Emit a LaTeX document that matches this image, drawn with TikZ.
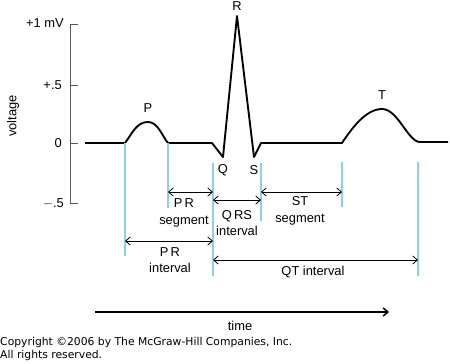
\documentclass[tikz,border=0pt]{standalone}
\usepackage{fontspec}
\setmainfont{Liberation Sans}
\newfontfamily\copyfont{DejaVu Sans}
\usepackage{tikz}
\usetikzlibrary{calc,arrows.meta}
\definecolor{markblue}{RGB}{140,208,240}
\tikzset{>={Straight Barb[length=4pt,width=7pt]},
  trace/.style={line width=1.6pt, line join=round},
  marker/.style={markblue, line width=1.2pt},
  span/.style={<->, line width=0.7pt},
  lbl/.style={align=center, inner sep=0pt, font=\fontsize{11}{14}\selectfont}}

\begin{document}
\begin{tikzpicture}[x=0.03cm, y=-0.03cm]
    \useasboundingbox (0,0) rectangle (450,363);
    % voltage axis
    \begin{scope}[gray!70!black, line width=0.8pt]
      \draw (78,24) -- (70,24) -- (70,203) -- (78,203);
      \draw (70,85) -- (78,85);
      \draw (70,143) -- (78,143);
    \end{scope}
    \node[lbl, anchor=east] (vone) at (64,23) {+1 mV};
    \node[lbl, anchor=east] (vhalf) at (62,85) {+.5};
    \node[lbl, anchor=east] (vzero) at (62,143) {0};
    \node[lbl, anchor=east] (vneg) at (64,204) {$-$.5};
    \node[lbl, rotate=90] (volt) at (13,116) {voltage};
    % the trace
    \coordinate (pon) at (125,143);
    \coordinate (poff) at (168,143);
    \coordinate (qon) at (212,143);
    \coordinate (q) at (223,157);
    \coordinate (r) at (237,16);
    \coordinate (s) at (254,157);
    \coordinate (soff) at (261,143);
    \coordinate (ton) at (342,143);
    \coordinate (toff) at (420,142);
    \draw[trace] (85,143) -- (pon) .. controls (133,132) and (137,122) .. (148,122)
      .. controls (158,122) and (162,136) .. (poff) -- (qon) -- (q) -- (r) -- (s) -- (soff)
      -- (ton) .. controls (352,128) and (366,109) .. (382,109)
      .. controls (398,109) and (408,142) .. (toff) -- (448,142);
    \node[lbl] (plbl) at (148,108) {P};
    \node[lbl] (rlbl) at (237,6) {R};
    \node[lbl] (qlbl) at (223,170) {Q};
    \node[lbl] (slbl) at (254,170) {S};
    \node[lbl] (tlbl) at (382,95) {T};
    % markers
    \coordinate (m1) at (125,256);
    \coordinate (m2) at (168,208);
    \coordinate (m3t) at (213,163);
    \coordinate (m3) at (213,276);
    \coordinate (m4t) at (261,163);
    \coordinate (m4) at (261,221);
    \coordinate (m5t) at (342,162);
    \coordinate (m5) at (342,207);
    \coordinate (m6t) at (418,162);
    \coordinate (m6) at (418,276);
    \draw[marker] (pon) -- (m1);
    \draw[marker] (poff) -- (m2);
    \draw[marker] (m3t) -- (m3);
    \draw[marker] (m4t) -- (m4);
    \draw[marker] (m5t) -- (m5);
    \draw[marker] (m6t) -- (m6);
    % spans
    \draw[span] (m2 |- 0,192) -- (m3t |- 0,192);
    \node[lbl] (prseg) at (184,213) {P\,R\\segment};
    \draw[span] (m3t |- 0,200) -- (m4t |- 0,200);
    \node[lbl] (qrs) at (237,223) {Q\,RS\\interval};
    \draw[span] (m4t |- 0,192) -- (m5t |- 0,192);
    \node[lbl] (stseg) at (300,211) {ST\\segment};
    \draw[span] (m1 |- 0,241) -- (m3t |- 0,241);
    \node[lbl] (print) at (170,260) {P\,R\\interval};
    \draw[span] (m3t |- 0,260) -- (m6t |- 0,260);
    \node[lbl] (qt) at (313,272) {QT interval};
    % time
    \coordinate (tstart) at (95,312);
    \coordinate (tend) at (389,312);
    \draw[->, line width=1.3pt] (tstart) -- (tend);
    \node[lbl] (time) at (240,326) {time};
    \node[anchor=west, inner sep=0pt, align=left, font=\copyfont\fontsize{9.2}{10.5}\selectfont]
      (copy) at (0,349) {Copyright \textcopyright2006 by The McGraw-Hill Companies, Inc.\\All rights reserved.};
\end{tikzpicture}
\end{document}
